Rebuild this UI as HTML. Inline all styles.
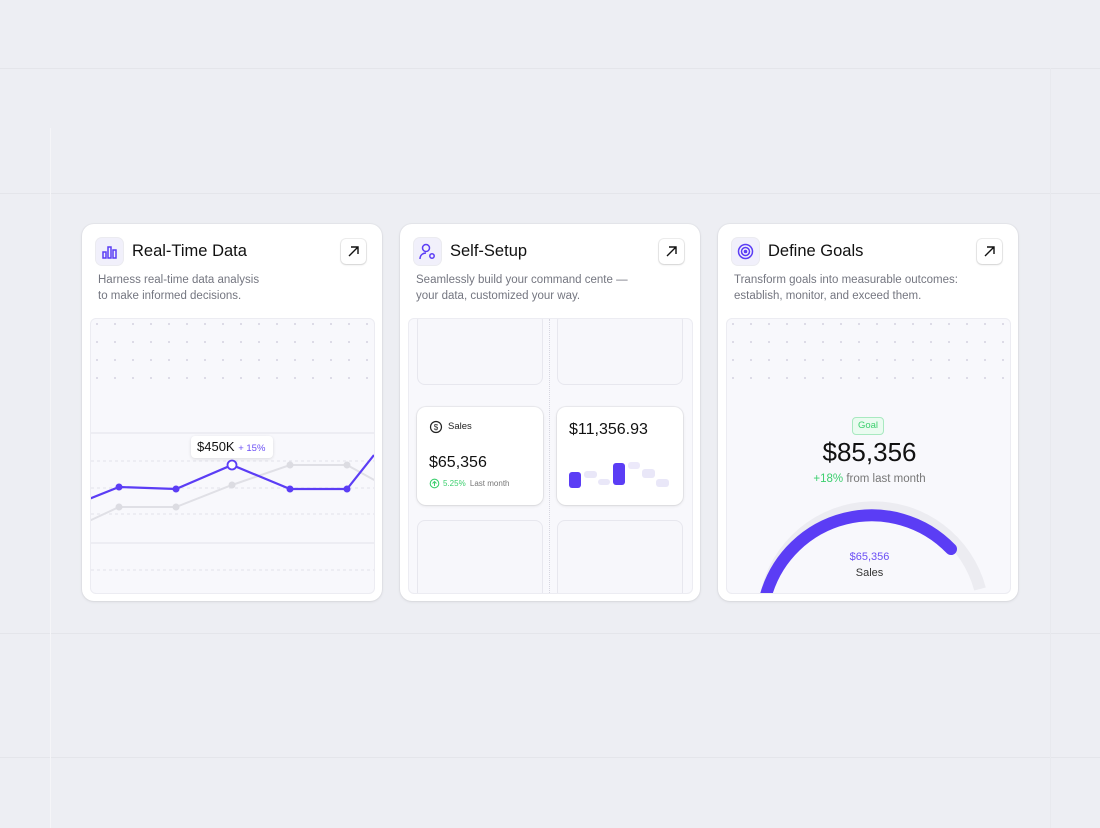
<!DOCTYPE html>
<html><head><meta charset="utf-8"><style>
*{margin:0;padding:0;box-sizing:border-box}
body{width:1100px;height:825px;background:#edeef3;font-family:"Liberation Sans",sans-serif;position:relative;overflow:hidden}
.a{position:absolute}
.card{position:absolute;top:224px;width:300px;height:377px;background:#fff;border-radius:12px;box-shadow:0 1px 3px rgba(0,0,0,.08),0 0 0 1px #e6e7ec}
.ic{position:absolute;left:14px;top:14px;width:27px;height:27px;border-radius:6px;background:#f1f0fb;box-shadow:0 0 0 1px #ebebf0}
.ttl{position:absolute;left:50px;top:18px;font-size:16.5px;color:#111}
.arr{position:absolute;right:16px;top:15px;width:25px;height:25px;border-radius:5px;background:#fff;box-shadow:0 1px 2px rgba(0,0,0,.12),0 0 0 1px #eee}
.desc{position:absolute;left:16px;top:48px;font-size:11.5px;line-height:16px;color:#747680}
.pan{position:absolute;left:8px;top:94px;width:285px;height:276px;background:#f8f8fc;border:1px solid #ececf2;border-radius:6px;overflow:hidden}
.mini{position:absolute;background:#f7f7fb;border:1px solid #e7e7ee;border-radius:8px}
.mc{position:absolute;background:#fff;border-radius:9px;box-shadow:0 1px 3px rgba(0,0,0,.1),0 0 0 1px #ececf0}
</style></head><body>
<div class="a" style="left:0;top:68px;width:1100px;height:1px;background:#e4e5ea"></div>
<div class="a" style="left:0;top:193px;width:1100px;height:1px;background:#e4e5ea"></div>
<div class="a" style="left:0;top:633px;width:1100px;height:1px;background:#e4e5ea"></div>
<div class="a" style="left:0;top:757px;width:1100px;height:1px;background:#e4e5ea"></div>
<div class="a" style="left:50px;top:128px;width:1px;height:700px;background:#f5f5f8"></div>
<div class="a" style="left:1050px;top:68px;width:1px;height:760px;background:#e8e9ee"></div>

<svg width="0" height="0" class="a"><defs><pattern id="dots" width="18" height="18" patternUnits="userSpaceOnUse"><circle cx="6" cy="5" r="0.9" fill="#c9c6d8"/></pattern></defs></svg>

<!-- Card 1 -->
<div class="card" style="left:82px">
 <div class="ic"><svg width="27" height="27"><g fill="none" stroke="#5b3df5" stroke-width="1.5"><rect x="7" y="14" width="3" height="6"/><rect x="12" y="9" width="3" height="11"/><rect x="17" y="12" width="3" height="8"/></g></svg></div>
 <div class="ttl">Real-Time Data</div>
 <div class="arr"><svg width="25" height="25"><path d="M8 17L17 8M10 8h7v7" stroke="#111" stroke-width="1.4" fill="none"/></svg></div>
 <div class="desc">Harness real-time data analysis<br>to make informed decisions.</div>
 <div class="pan">
  <svg width="285" height="276" style="position:absolute;left:0;top:0">
   <rect x="0" y="0" width="285" height="72" fill="url(#dots)"/>
   <g stroke="#e2e2ea" stroke-width="1" stroke-dasharray="3 3">
    <line x1="0" y1="114" x2="285" y2="114" stroke-dasharray="none"/>
    <line x1="0" y1="142" x2="285" y2="142"/>
    <line x1="0" y1="169" x2="285" y2="169"/>
    <line x1="0" y1="195" x2="285" y2="195"/>
    <line x1="0" y1="224" x2="285" y2="224" stroke-dasharray="none"/>
    <line x1="0" y1="251" x2="285" y2="251"/>
   </g>
   <polyline points="-2,202 28,188 85,188 141,166 199,146 256,146 285,162" fill="none" stroke="#e0e0e6" stroke-width="2"/>
   <g fill="#dcdce2"><circle cx="28" cy="188" r="3.5"/><circle cx="85" cy="188" r="3.5"/><circle cx="141" cy="166" r="3.5"/><circle cx="199" cy="146" r="3.5"/><circle cx="256" cy="146" r="3.5"/></g>
   <polyline points="-2,180 28,168 85,170 141,146 199,170 256,170 283,136" fill="none" stroke="#5b3df5" stroke-width="2.2"/>
   <g fill="#5b3df5"><circle cx="28" cy="168" r="3.5"/><circle cx="85" cy="170" r="3.5"/><circle cx="199" cy="170" r="3.5"/><circle cx="256" cy="170" r="3.5"/></g>
   <circle cx="141" cy="146" r="4.5" fill="#fff" stroke="#5b3df5" stroke-width="1.8"/>
  </svg>
  <div class="a" style="left:100px;top:117px;width:82px;height:22px;background:#fff;border-radius:4px;box-shadow:0 1px 3px rgba(0,0,0,.12);font-size:13px;line-height:22px;padding-left:6px;color:#111">$450K <span style="font-size:9.5px;color:#6b4ff5">+ 15%</span></div>
 </div>
</div>

<!-- Card 2 -->
<div class="card" style="left:400px">
 <div class="ic"><svg width="27" height="27"><g fill="none" stroke="#5b3df5" stroke-width="1.5"><circle cx="12" cy="10" r="3.5"/><path d="M6 21c0-4 3-6 6-6"/><circle cx="18" cy="18" r="2.2"/></g></svg></div>
 <div class="ttl">Self-Setup</div>
 <div class="arr"><svg width="25" height="25"><path d="M8 17L17 8M10 8h7v7" stroke="#111" stroke-width="1.4" fill="none"/></svg></div>
 <div class="desc">Seamlessly build your command cente —<br>your data, customized your way.</div>
 <div class="pan">
  <div class="mini" style="left:8px;top:-6px;width:126px;height:72px"></div>
  <div class="mini" style="left:148px;top:-6px;width:126px;height:72px"></div>
  <div class="mini" style="left:8px;top:201px;width:126px;height:80px"></div>
  <div class="mini" style="left:148px;top:201px;width:126px;height:80px"></div>
  <div class="a" style="left:140px;top:0;width:1px;height:276px;border-left:1px dotted #d6d6e0"></div>
  <div class="mc" style="left:8px;top:88px;width:126px;height:98px">
   <svg class="a" style="left:12px;top:13px" width="14" height="14"><circle cx="7" cy="7" r="5.5" fill="none" stroke="#222" stroke-width="1.2"/><text x="7" y="10" font-size="8" text-anchor="middle" fill="#222" font-family="Liberation Sans">$</text></svg>
   <div class="a" style="left:31px;top:14px;font-size:9.5px;color:#222">Sales</div>
   <div class="a" style="left:12px;top:47px;font-size:16px;color:#111">$65,356</div>
   <svg class="a" style="left:12px;top:71px" width="11" height="11"><circle cx="5.5" cy="5.5" r="4.3" fill="none" stroke="#3ccf6e" stroke-width="1.1"/><path d="M5.5 8V3.5M3.5 5.5l2-2 2 2" stroke="#3ccf6e" fill="none" stroke-width="1"/></svg>
   <div class="a" style="left:26px;top:72px;font-size:8px;color:#3ccf6e">5.25% <span style="color:#777;margin-left:2px">Last month</span></div>
  </div>
  <div class="mc" style="left:148px;top:88px;width:126px;height:98px">
   <div class="a" style="left:12px;top:14px;font-size:16px;color:#111">$11,356.93</div>
   <div class="a" style="left:12px;top:65px;width:12px;height:16px;background:#5b3df5;border-radius:3px"></div>
   <div class="a" style="left:27px;top:64px;width:13px;height:7px;background:#e9e7f8;border-radius:3px"></div>
   <div class="a" style="left:41px;top:72px;width:12px;height:6px;background:#e9e7f8;border-radius:3px"></div>
   <div class="a" style="left:56px;top:56px;width:12px;height:22px;background:#5b3df5;border-radius:3px"></div>
   <div class="a" style="left:71px;top:55px;width:12px;height:7px;background:#ece9fa;border-radius:3px"></div>
   <div class="a" style="left:85px;top:62px;width:13px;height:9px;background:#e9e7f8;border-radius:3px"></div>
   <div class="a" style="left:99px;top:72px;width:13px;height:8px;background:#e9e7f8;border-radius:3px"></div>
  </div>
 </div>
</div>

<!-- Card 3 -->
<div class="card" style="left:718px">
 <div class="ic"><svg width="27" height="27"><g fill="none" stroke="#5b3df5" stroke-width="1.5"><circle cx="13.5" cy="13.5" r="7"/><circle cx="13.5" cy="13.5" r="4"/></g><circle cx="13.5" cy="13.5" r="1.8" fill="#5b3df5"/></svg></div>
 <div class="ttl">Define Goals</div>
 <div class="arr"><svg width="25" height="25"><path d="M8 17L17 8M10 8h7v7" stroke="#111" stroke-width="1.4" fill="none"/></svg></div>
 <div class="desc">Transform goals into measurable outcomes:<br>establish, monitor, and exceed them.</div>
 <div class="pan">
  <svg width="285" height="276" style="position:absolute;left:0;top:0">
   <rect x="0" y="0" width="285" height="72" fill="url(#dots)"/>
   <path d="M39 276 A110 110 0 0 1 253 270" fill="none" stroke="#ececf1" stroke-width="12"/>
   <path d="M39 276 A110 110 0 0 1 224 230" fill="none" stroke="#5b3df5" stroke-width="12" stroke-linecap="round"/>
  </svg>
  <div class="a" style="left:125px;top:98px;width:32px;height:18px;background:#eafbf0;border:1px solid #a8e9c0;border-radius:4px;font-size:9.5px;color:#3ccf6e;text-align:center;line-height:16px">Goal</div>
  <div class="a" style="left:0;top:118px;width:285px;text-align:center;font-size:26px;color:#111">$85,356</div>
  <div class="a" style="left:0;top:154px;width:285px;text-align:center;font-size:11.5px;color:#777"><span style="color:#3ccf6e">+18%</span> from last month</div>
  <div class="a" style="left:0;top:232px;width:285px;text-align:center;font-size:11px;color:#6b4ff5">$65,356</div>
  <div class="a" style="left:0;top:248px;width:285px;text-align:center;font-size:11px;color:#333">Sales</div>
 </div>
</div>
</body></html>
